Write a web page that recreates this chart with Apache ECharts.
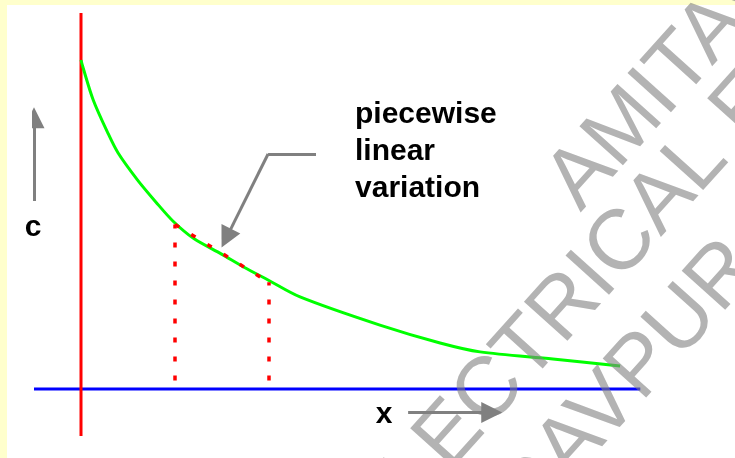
<!DOCTYPE html>
<html>
<head>
<meta charset="utf-8">
<script src="https://cdn.jsdelivr.net/npm/echarts@6/dist/echarts.min.js"></script>
<style>
  html, body { margin: 0; padding: 0; }
  #container { width: 735px; height: 458px; }
</style>
</head>
<body>
<div id="container"></div>
<script>
// concentration curve c(x) (x in grid units, c in grid units)
var curveX = [0, 0.04, 0.26, 0.57, 0.79, 1.2, 1.6, 1.96, 2.4, 2.99, 3.49, 3.98, 4.66, 6.36, 7.64, 8.49, 10.04, 11.47];
var curveC = [7.0, 6.85, 6.15, 5.45, 5.02, 4.45, 3.97, 3.57, 3.2, 2.87, 2.58, 2.32, 1.96, 1.36, 0.98, 0.79, 0.64, 0.49];

// the piecewise linear chord and the two dotted drops
var chordX = [2, 4];
var chordC = [3.5, 2.27];
var dropBottom = 0.18;

// axes drawn as plain lines
var xAxisSpan = [-1, 11.9];
var cAxisSpan = [-1, 8];

// labels
var labelC = 'c';
var labelX = 'x';
var noteText = ['piecewise', 'linear', 'variation'];
var watermark = ['AMITAVA', 'ELECTRICAL ENGG', 'JADAVPUR'];

var curveData = curveX.map(function (x, i) { return [x, curveC[i]]; });
var dropData = chordX.map(function (x, i) {
    return { coords: [[x, dropBottom], [x, chordC[i]]] };
});

var txtFont = 'Liberation Sans, Arial, sans-serif';
var gray = '#808080';

var myChart = echarts.init(document.getElementById('container'));
var option = {
    backgroundColor: '#ffffcc',
    animation: false,
    grid: { left: 34, right: 90, top: 13, bottom: 22 },
    xAxis: { type: 'value', min: -1, max: 12, show: false },
    yAxis: { type: 'value', min: -1, max: 8, show: false },
    graphic: [
        { type: 'rect', z: -10, shape: { x: 7, y: 5, width: 728, height: 453 }, style: { fill: '#fff' } }
    ].concat(watermark.map(function (t, i) {
        var pos = [[563, 197], [362, 534], [445, 586]][i];
        return {
            type: 'text', z: 100, x: pos[0], y: pos[1], rotation: 48 * Math.PI / 180,
            silent: true,
            style: {
                text: t, fill: 'rgba(128,128,128,0.6)', fontSize: 85,
                fontFamily: txtFont, align: 'left', verticalAlign: 'middle'
            }
        };
    })),
    series: [
        {
            type: 'line', symbol: 'none', silent: true,
            lineStyle: { color: '#0000ff', width: 3 },
            data: [[xAxisSpan[0], 0], [xAxisSpan[1], 0]]
        },
        {
            type: 'line', symbol: 'none', silent: true,
            lineStyle: { color: '#ff0000', width: 3 },
            data: [[0, cAxisSpan[0]], [0, cAxisSpan[1]]]
        },
        {
            type: 'line', symbol: 'none', silent: true, smooth: 0.3,
            lineStyle: { color: '#00ff00', width: 3 },
            data: curveData
        },
        {
            type: 'lines', coordinateSystem: 'cartesian2d', silent: true, z: 5,
            lineStyle: { color: '#ff0000', width: 3.5, type: [5, 14], opacity: 1 },
            data: dropData.concat([{ coords: [[chordX[0], chordC[0]], [chordX[1], chordC[1]]] }])
        },
        {
            // arrows
            type: 'lines', coordinateSystem: 'cartesian2d', silent: true,
            symbol: ['none', 'triangle'], symbolSize: 21,
            lineStyle: { color: gray, width: 3, opacity: 1 },
            data: [
                { coords: [[-1, 4], [-1, 5.77]] },
                { coords: [[6.96, -0.5], [8.74, -0.5]] },
                { coords: [[3.98, 5], [3.09, 3.21]] }
            ]
        },
        {
            type: 'lines', coordinateSystem: 'cartesian2d', silent: true,
            lineStyle: { color: gray, width: 3, opacity: 1 },
            data: [{ coords: [[5, 5], [3.98, 5]] }]
        },
        {
            type: 'scatter', symbolSize: 0, silent: true, clip: false,
            itemStyle: { opacity: 1 },
            label: {
                show: true, position: 'inside', color: '#000000', fontWeight: 'bold',
                fontSize: 30, fontFamily: txtFont,
                formatter: function (p) { return p.data[2]; }
            },
            data: [[-1.02, 3.43, labelC], [6.45, -0.55, labelX]]
        },
        {
            type: 'scatter', symbolSize: 0, silent: true, clip: false,
            itemStyle: { opacity: 1 },
            label: {
                show: true, position: 'inside', align: 'left', verticalAlign: 'middle',
                color: '#000000', fontWeight: 'bold', fontSize: 30, lineHeight: 37,
                fontFamily: txtFont,
                formatter: function () { return noteText.join('\n'); }
            },
            data: [[5.83, 5.04]]
        }
    ]
};
myChart.setOption(option);
</script>
</body>
</html>
